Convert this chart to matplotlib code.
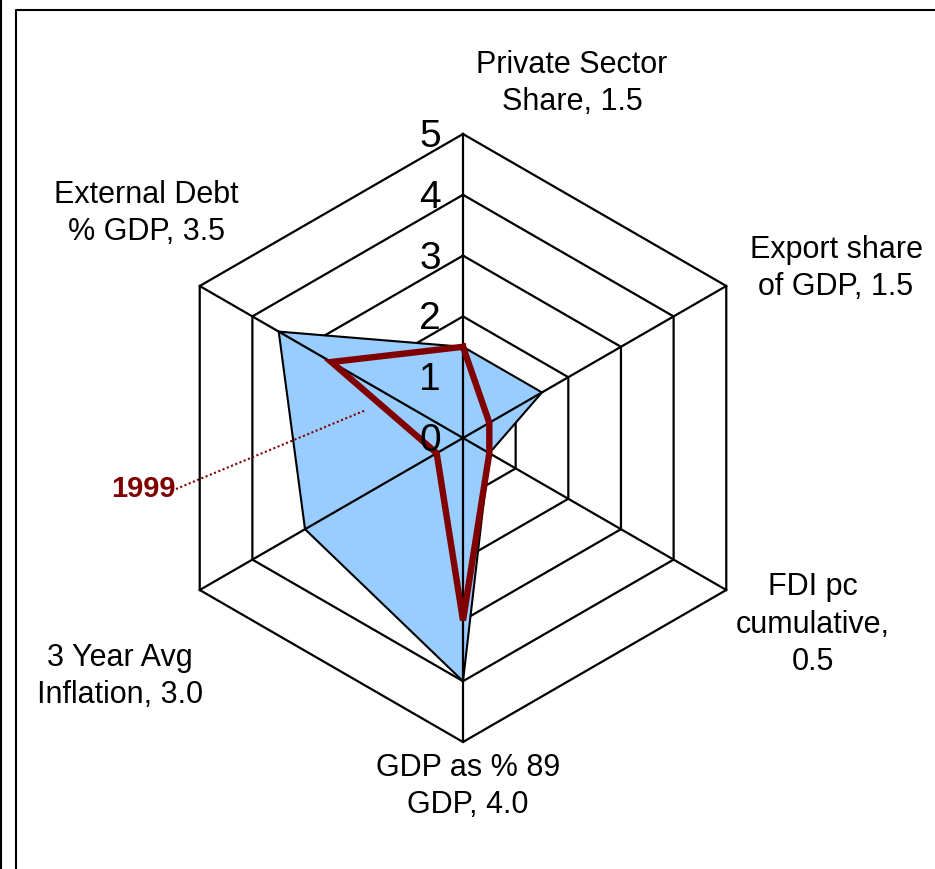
import numpy as np
import matplotlib
matplotlib.use("Agg")
import matplotlib.pyplot as plt
from matplotlib.lines import Line2D

plt.rcParams["font.family"] = ["Liberation Sans", "DejaVu Sans"]

# data
categories = [
    "Private Sector\nShare, 1.5",
    "Export share\nof GDP, 1.5",
    "FDI pc\ncumulative,\n0.5",
    "GDP as % 89\nGDP, 4.0",
    "3 Year Avg\nInflation, 3.0",
    "External Debt\n% GDP, 3.5",
]
current = [1.5, 1.5, 0.5, 4.0, 3.0, 3.5]
y1999 = [1.5, 0.5, 0.5, 3.0, 0.5, 2.5]
rings = [0, 1, 2, 3, 4, 5]
series_label = "1999"

# layout (pixels of the 935x869 canvas); anchors = baseline of last line
W, H = 935, 869
CX, CY = 463, 438
UNIT = 60.8
label_anchor = [(572, 110), (836, 295), (813, 670), (468, 813), (120, 703), (146, 240)]

BLUE = "#99CCFF"
MAROON = "#800000"

fig = plt.figure(figsize=(W / 100, H / 100), dpi=100)
ax = fig.add_axes([0, 0, 1, 1])
ax.set_xlim(-CX / UNIT, (W - CX) / UNIT)
ax.set_ylim(-(H - CY) / UNIT, CY / UNIT)
ax.axis("off")


def px(x, y):
    return (x - CX) / UNIT, (CY - y) / UNIT


angles = np.pi / 2 - np.arange(len(categories)) * 2 * np.pi / len(categories)


def closed_xy(vals):
    v = np.append(np.asarray(vals, float), vals[0])
    a = np.append(angles, angles[0])
    return v * np.cos(a), v * np.sin(a)


# hexagonal grid
for r in rings[1:]:
    gx, gy = closed_xy([r] * len(categories))
    ax.plot(gx, gy, color="black", lw=1.6, zorder=1)

# filled series
fx, fy = closed_xy(current)
ax.fill(fx, fy, facecolor=BLUE, edgecolor="black", lw=1.5, zorder=2)

# spokes
rmax = rings[-1]
for a in angles:
    ax.plot([0, rmax * np.cos(a)], [0, rmax * np.sin(a)], color="black", lw=1.6, zorder=3)

# 1999 line
lx, ly = closed_xy(y1999)
ax.plot(lx, ly, color=MAROON, lw=4.6, solid_joinstyle="miter", zorder=4)

# radial tick labels
for r in rings:
    ax.text(-22 / UNIT, r - 3 / UNIT, str(r), ha="right", va="center",
            fontsize=28, zorder=5)

# category labels
for lab, (x, y) in zip(categories, label_anchor):
    tx, ty = px(x, y)
    ax.text(tx, ty, lab, ha="center", va="baseline", fontsize=22,
            multialignment="center", linespacing=1.32)

# series callout
p0 = px(176, 489)
p1 = px(366, 410)
ax.plot([p0[0], p1[0]], [p0[1], p1[1]], color=MAROON, lw=1.5, ls=(0, (1, 1.2)), zorder=5)
tx, ty = px(143, 489)
ax.text(tx, ty, series_label, ha="center", va="center", fontsize=21,
        fontweight="bold", color=MAROON)

# frame lines
fig.add_artist(Line2D([1 / W, 1 / W], [0, 1], transform=fig.transFigure, color="black", lw=1.5))
fig.add_artist(Line2D([16 / W, 16 / W, 1], [0, 1 - 9.5 / H, 1 - 9.5 / H],
                      transform=fig.transFigure, color="black", lw=1.5))

fig.savefig("out.png", dpi=100)
